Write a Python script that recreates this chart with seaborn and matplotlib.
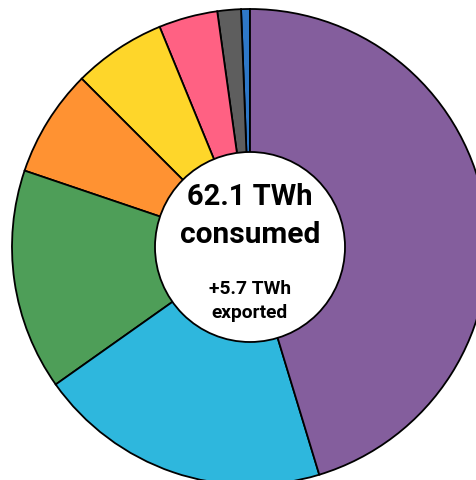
import matplotlib
matplotlib.use("Agg")
import matplotlib.pyplot as plt
import seaborn as sns

# Data (share of consumption, %, counter-clockwise from 12 o'clock)
sources = ["Other", "Gas", "Bio", "Solar", "Wind", "Hydro", "Import", "Nuclear"]
shares = [0.6, 1.6, 4.0, 6.3, 7.3, 15.0, 19.9, 45.3]
colors = ["#2E78C8", "#5E5E5E", "#FF6183", "#FED62A", "#FF9232", "#4E9E58", "#2EB7DD", "#845E9D"]
title_main = ["62.1 TWh", "consumed"]
title_sub = ["+5.7 TWh", "exported"]

sns.set_theme(style="white")
plt.rcParams['font.family'] = ['Roboto', 'DejaVu Sans']

W, H = 477, 481
fig = plt.figure(figsize=(W / 100, H / 100), dpi=100)
ax = fig.add_axes([0, 0, 1, 1])
pal = sns.color_palette(colors)

cx, cy, R, r = 250, H - 248, 238, 95
ax.pie(shares, colors=pal, startangle=90, counterclock=True, center=(cx, cy), radius=R,
       wedgeprops=dict(edgecolor="black", linewidth=1.3))
ax.add_patch(plt.Circle((cx, cy), r, facecolor="white", edgecolor="black", linewidth=1.3, zorder=5))

ax.text(cx, H - 197, title_main[0], ha="center", va="center", fontsize=21, fontweight="bold", color="black", zorder=6)
ax.text(cx, H - 235, title_main[1], ha="center", va="center", fontsize=21.5, fontweight="bold", color="black", zorder=6)
ax.text(cx, H - 289, title_sub[0], ha="center", va="center", fontsize=13.8, fontweight="bold", color="black", zorder=6)
ax.text(cx, H - 313, title_sub[1], ha="center", va="center", fontsize=13.8, fontweight="bold", color="black", zorder=6)

ax.set_xlim(0, W)
ax.set_ylim(0, H)
ax.set_aspect("equal")
ax.axis("off")
fig.savefig("out.png", dpi=100, facecolor="white")
